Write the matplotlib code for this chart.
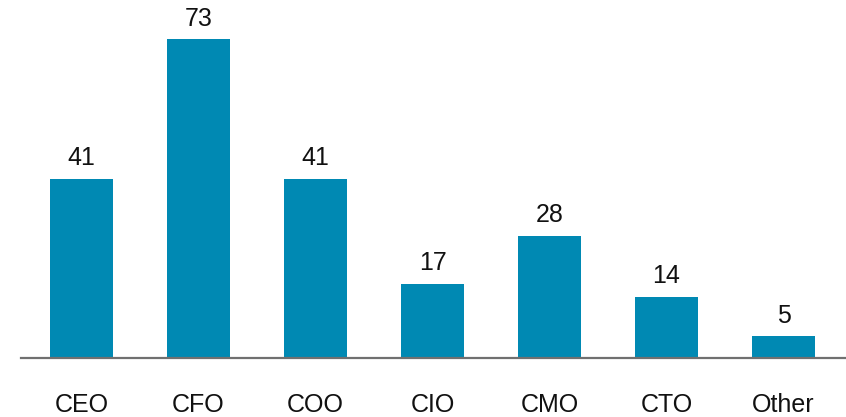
import matplotlib
matplotlib.use("Agg")
import matplotlib.pyplot as plt

roles = ["CEO", "CFO", "COO", "CIO", "CMO", "CTO", "Other"]
counts = [41, 73, 41, 17, 28, 14, 5]

plt.rcParams["font.family"] = ["Liberation Sans", "DejaVu Sans"]

fig = plt.figure(figsize=(8.46, 4.17), dpi=100)
ax = fig.add_axes([21 / 846, 59 / 417, 825 / 846, 358 / 417])

x = list(range(len(roles)))
bars = ax.bar(x, counts, width=0.54, color="#0089B3")

for xi, v in zip(x, counts):
    ax.annotate(str(v), (xi, v), xytext=(0, 6), textcoords="offset points",
                ha="center", va="bottom", fontsize=18, color="#111111")

ax.set_xlim(-0.517, 6.534)
ax.set_ylim(0, 81.9)
ax.set_xticks(x)
ax.set_xticklabels(roles, fontsize=18, color="#111111")
ax.tick_params(axis="x", length=0, pad=25)
ax.set_yticks([])

for side in ("top", "right", "left"):
    ax.spines[side].set_visible(False)
ax.spines["bottom"].set_color("#707070")
ax.spines["bottom"].set_linewidth(1.6)

fig.savefig("out.png", dpi=100)
